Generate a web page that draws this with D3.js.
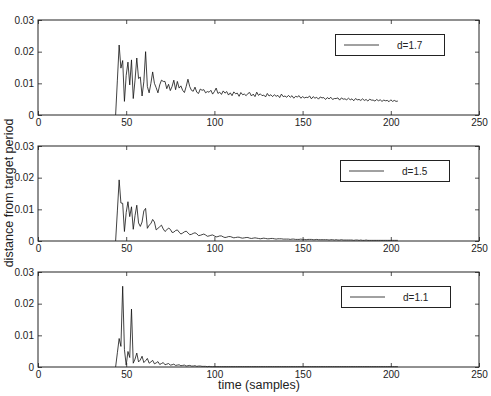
<!DOCTYPE html>
<html>
<head>
<meta charset="utf-8">
<script src="https://cdn.jsdelivr.net/npm/d3@7"></script>
<style>
  body { margin: 0; background: #fff; }
  svg { display: block; font-family: "Liberation Sans", Arial, sans-serif; }
</style>
</head>
<body>
<svg id="chart" width="491" height="396"></svg>
<script>
// first sample index of every series
const startSample = 44;

const labels = ['d=1.7', 'd=1.5', 'd=1.1'];

const xTicks = [0, 50, 100, 150, 200, 250];
const yTicks = [0, 0.01, 0.02, 0.03];

// d=1.7, samples 44..204
const d17 = [
  0, .0110, .0221, .0148, .0172, .0043, .0125, .0167, .0095, .0174,
  .0052, .0110, .0180, .0115, .0120, .0060, .0105, .0200, .0090, .0070,
  .0100, .0136, .0100, .0086, .0070, .0095, .0110, .0106, .0106, .0083,
  .0097, .0077, .0090, .0110, .0080, .0106, .0085, .0092, .0078, .0071,
  .0090, .0113, .0090, .0078, .0075, .0088, .0072, .0068, .0082, .0078,
  .0080, .0070, .0074, .0072, .0078, .0066, .0074, .0085, .0068, .0072,
  .0065, .0076, .0069, .0074, .0063, .0070, .0061, .0073, .0067, .0069,
  .0059, .0071, .0064, .0066, .0061, .0068, .0071, .0060, .0066, .0058,
  .0072, .0062, .0067, .0061, .0063, .0057, .0068, .0060, .0064, .0058,
  .0064, .0059, .0062, .0055, .0066, .0058, .0060, .0056, .0062, .0056,
  .0061, .0053, .0059, .0057, .0061, .0053, .0058, .0054, .0056, .0055,
  .0060, .0051, .0058, .0053, .0056, .0050, .0057, .0054, .0055, .0049,
  .0055, .0051, .0056, .0049, .0052, .0052, .0054, .0047, .0054, .0050,
  .0051, .0048, .0053, .0048, .0051, .0045, .0052, .0048, .0049, .0046,
  .0051, .0046, .0049, .0044, .0050, .0047, .0047, .0044, .0049, .0045,
  .0048, .0043, .0047, .0045, .0046, .0042, .0048, .0043, .0046, .0043,
  .0044
];

// d=1.5, samples 44..204
const d15 = [
  0, .0095, .0193, .0120, .0119, .0030, .0090, .0124, .0077, .0108,
  .0037, .0080, .0113, .0057, .0046, .0060, .0095, .0103, .0040, .0050,
  .0055, .0068, .0060, .0035, .0040, .0045, .0050, .0038, .0030, .0035,
  .0041, .0037, .0027, .0028, .0033, .0035, .0028, .0022, .0025, .0029,
  .0031, .0026, .0020, .0021, .0024, .0026, .0023, .0017, .0018, .0020,
  .0022, .0019, .0015, .0016, .0018, .0019, .0016, .0013, .0014, .0016,
  .0016, .0013, .0011, .0012, .0014, .0014, .0012, .0010, .0011, .0012,
  .0012, .0010, .0009, .0010, .0011, .0011, .0009, .0008, .0009, .0010,
  .0009, .0008, .0007, .0008, .0009, .0008, .0007, .0007, .0008, .0008,
  .0007, .0006, .0007, .0007, .0007, .0006, .0006, .0006, .0006, .0005,
  .0006, .0006, .0005, .0005, .0005, .0006, .0005, .0005, .0004, .0005,
  .0005, .0005, .0004, .0004, .0005, .0004, .0004, .0004, .0004, .0004,
  .0004, .0003, .0004, .0004, .0003, .0004, .0003, .0003, .0004, .0003,
  .0003, .0003, .0003, .0003, .0003, .0002, .0003, .0003, .0002, .0003,
  .0002, .0002, .0003, .0002, .0002, .0002, .0002, .0002, .0002, .0002,
  .0002, .0002, .0002, .0002, .0002, .0002, .0002, .0002, .0002, .0002,
  .0002
];

// d=1.1, samples 44..204
const d11 = [
  0, .0045, .0090, .0065, .0255, .0055, .0006, .0049, .0030, .0183,
  .0012, .0025, .0044, .0016, .0022, .0034, .0014, .0020, .0027, .0012,
  .0016, .0021, .0010, .0013, .0017, .0008, .0011, .0014, .0007, .0009,
  .0011, .0006, .0007, .0009, .0005, .0006, .0007, .0004, .0005, .0006,
  .0003, .0004, .0005, .0003, .0003, .0004, .0002, .0003, .0003, .0002,
  .0002, .0002, .0001, .0002, .0001, .0001, .0001, .0001, .0001, .0001,
  .0001, .0001, .0001, .0001, .0001, .0001, .0001, .0001, .0001, .0001,
  .0001, .0001, .0001, .0001, .0001, .0001, .0001, .0001, .0001, .0001,
  .0001, .0001, .0001, .0001, .0001, .0001, .0001, .0001, .0001, .0001,
  .0001, .0001, .0001, .0001, .0001, .0001, .0001, .0001, .0001, .0001,
  .0001, .0001, .0001, .0001, .0001, .0001, .0001, .0001, .0001, .0001,
  .0001, .0001, .0001, .0001, .0001, .0001, .0001, .0001, .0001, .0001,
  .0001, .0001, .0001, .0001, .0001, .0001, .0001, .0001, .0001, .0001,
  .0001, .0001, .0001, .0001, .0001, .0001, .0001, .0001, .0001, .0001,
  .0001, .0001, .0001, .0001, .0001, .0001, .0001, .0001, .0001, .0001,
  .0001, .0001, .0001, .0001, .0001, .0001, .0001, .0001, .0001, .0001,
  .0001
];

const series = [d17, d15, d11];

const svg = d3.select('#chart');
const left = 38, right = 479, panelH = 95;
const panelTops = [20, 146, 272];
const legendX = [335, 340, 341];
const tickLen = 4;
const ink = '#222';

const x = d3.scaleLinear().domain([0, 250]).range([left, right]);

svg.append('rect').attr('width', 491).attr('height', 396).attr('fill', '#fff');

series.forEach((vals, k) => {
  const top = panelTops[k];
  const y = d3.scaleLinear().domain([0, 0.03]).range([top + panelH, top]);
  const g = svg.append('g');

  // data line
  const line = d3.line()
    .x((d, i) => x(startSample + i))
    .y(d => y(d));
  g.append('path')
    .datum(vals)
    .attr('fill', 'none')
    .attr('stroke', '#111')
    .attr('stroke-width', 0.8)
    .attr('stroke-linejoin', 'round')
    .attr('d', line);

  // bottom / left axes with inward ticks
  g.append('g')
    .attr('transform', `translate(0,${top + panelH})`)
    .call(d3.axisBottom(x).tickValues(xTicks).tickSize(-tickLen).tickPadding(4).tickFormat(d3.format('d')))
    .call(a => a.select('.domain').remove())
    .selectAll('text').attr('font-size', 10).attr('fill', ink).attr('font-family', '"Liberation Sans", Arial, sans-serif');

  g.append('g')
    .attr('transform', `translate(${left},0)`)
    .call(d3.axisLeft(y).tickValues(yTicks).tickSize(-tickLen).tickPadding(4).tickFormat(d => d === 0 ? '0' : d3.format('.2f')(d)))
    .call(a => a.select('.domain').remove())
    .selectAll('text').attr('font-size', 10).attr('fill', ink).attr('font-family', '"Liberation Sans", Arial, sans-serif');

  // mirrored ticks on top and right
  g.append('g')
    .attr('transform', `translate(0,${top})`)
    .call(d3.axisTop(x).tickValues(xTicks).tickSize(-tickLen).tickFormat(''))
    .call(a => a.select('.domain').remove());
  g.append('g')
    .attr('transform', `translate(${right},0)`)
    .call(d3.axisRight(y).tickValues(yTicks).tickSize(-tickLen).tickFormat(''))
    .call(a => a.select('.domain').remove());

  g.selectAll('.tick line').attr('stroke', ink).attr('stroke-width', 0.8);

  // frame
  g.append('rect')
    .attr('x', left).attr('y', top)
    .attr('width', right - left).attr('height', panelH)
    .attr('fill', 'none').attr('stroke', ink).attr('stroke-width', 1);

  // legend
  const lx = legendX[k], ly = top + 14;
  const lg = g.append('g').attr('transform', `translate(${lx},${ly})`);
  lg.append('rect')
    .attr('x', 0.5).attr('y', 0.5).attr('width', 109).attr('height', 21)
    .attr('fill', '#fff').attr('stroke', ink).attr('stroke-width', 1);
  lg.append('line')
    .attr('x1', 9).attr('x2', 44).attr('y1', 11).attr('y2', 11)
    .attr('stroke', '#111').attr('stroke-width', 0.8);
  lg.append('text')
    .attr('x', 62).attr('y', 15)
    .attr('font-size', 10)
    .attr('fill', ink)
    .text(labels[k]);
});

svg.append('text')
  .attr('transform', 'translate(13,193) rotate(-90)')
  .attr('text-anchor', 'middle')
  .attr('font-size', 12.5)
  .attr('fill', ink)
  .text('distance from target period');

svg.append('text')
  .attr('x', 259).attr('y', 389)
  .attr('text-anchor', 'middle')
  .attr('font-size', 12.5)
  .attr('fill', ink)
  .text('time (samples)');
</script>
</body>
</html>
